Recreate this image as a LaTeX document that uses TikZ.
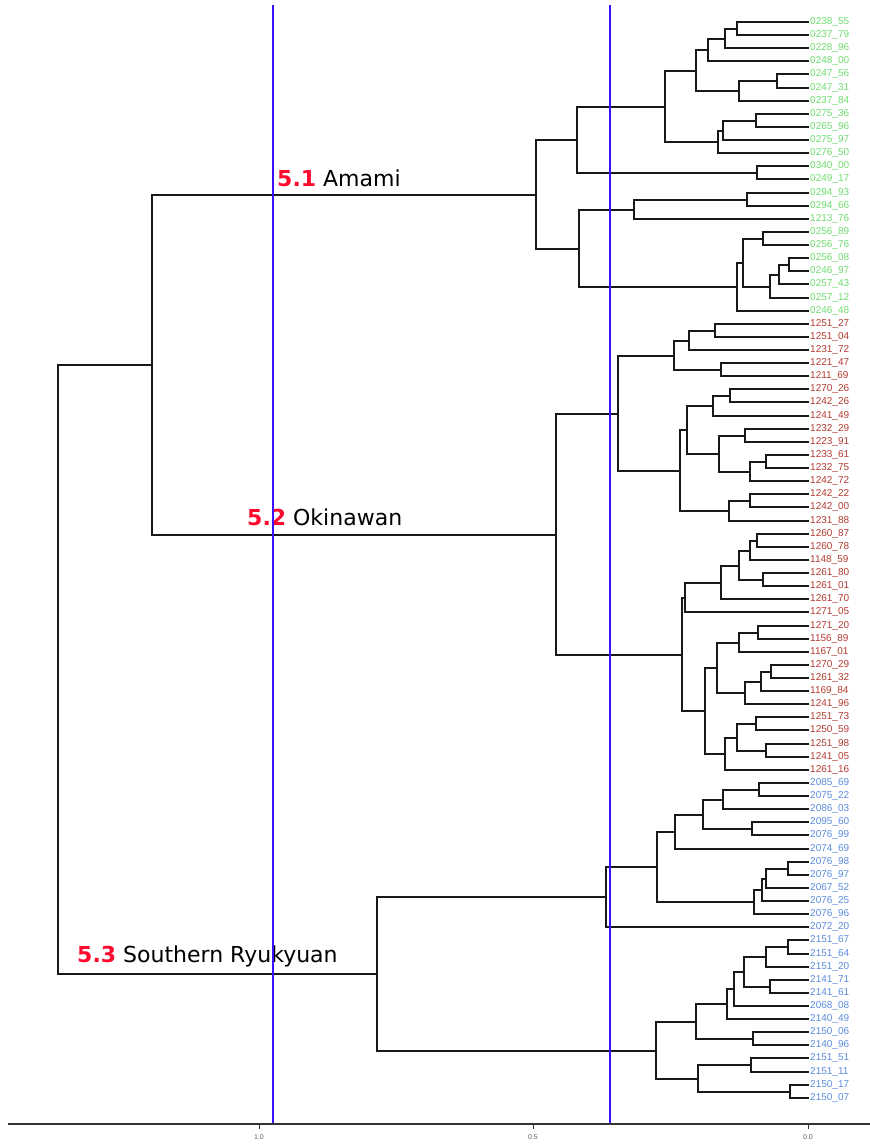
\documentclass[tikz,border=0pt]{standalone}
\usepackage{fontspec}
\setmainfont{Liberation Sans}
\newfontfamily\djv{DejaVu Sans}
\usetikzlibrary{calc}
\definecolor{amami}{HTML}{6EDC6E}
\definecolor{okin}{HTML}{B23B30}
\definecolor{south}{HTML}{5B8BDE}
\definecolor{hired}{HTML}{FF0A2E}
\definecolor{cutblue}{HTML}{3A10FF}
\definecolor{axisgray}{HTML}{333333}
\tikzset{
  tree/.style={draw=black!90, line width=1.8pt, line join=miter, line cap=rect},
  leaf/.style={anchor=west, inner sep=0pt, font=\fontsize{10}{12}\selectfont},
  clade/.style={anchor=base west, inner sep=0pt, font=\djv\fontsize{22}{26}\selectfont},
  cut/.style={draw=cutblue, line width=1.8pt},
  axisline/.style={draw=axisgray, line width=1.4pt},
  ticklab/.style={text=axisgray!80, font=\fontsize{7}{8}\selectfont, inner sep=0pt},
}
% merge two children at height #2 (px), snapped to whole pixels
\newcommand\mrg[4]{%
  \path let \p1=(#3), \p2=(#4) in coordinate (#1) at ({round(#2)*1pt}, {round(0.5*\y1+0.5*\y2)*1pt});
  \draw[tree] (#3) -| (#1) |- (#4);}

\begin{document}
\begin{tikzpicture}[x=1pt, y=-1pt]
  \useasboundingbox (0,0) rectangle (870,1144);
  \def\dy{13.12}
  % leaves
  \foreach \nm [count=\i from 0] in {0238\_55,0237\_79,0228\_96,0248\_00,0247\_56,0247\_31,0237\_84,0275\_36,0265\_96,0275\_97,0276\_50,0340\_00,0249\_17,0294\_93,0294\_66,1213\_76,0256\_89,0256\_76,0256\_08,0246\_97,0257\_43,0257\_12,0246\_48}{
    \coordinate (l\i) at (808,{round(22+\i*\dy)});
    \node[leaf, text=amami] (t\i) at (810,{22+\i*\dy}) {\nm};
  }
  \foreach \nm [count=\i from 23] in {1251\_27,1251\_04,1231\_72,1221\_47,1211\_69,1270\_26,1242\_26,1241\_49,1232\_29,1223\_91,1233\_61,1232\_75,1242\_72,1242\_22,1242\_00,1231\_88,1260\_87,1260\_78,1148\_59,1261\_80,1261\_01,1261\_70,1271\_05,1271\_20,1156\_89,1167\_01,1270\_29,1261\_32,1169\_84,1241\_96,1251\_73,1250\_59,1251\_98,1241\_05,1261\_16}{
    \coordinate (l\i) at (808,{round(22+\i*\dy)});
    \node[leaf, text=okin] (t\i) at (810,{22+\i*\dy}) {\nm};
  }
  \foreach \nm [count=\i from 58] in {2085\_69,2075\_22,2086\_03,2095\_60,2076\_99,2074\_69,2076\_98,2076\_97,2067\_52,2076\_25,2076\_96,2072\_20,2151\_67,2151\_64,2151\_20,2141\_71,2141\_61,2068\_08,2140\_49,2150\_06,2140\_96,2151\_51,2151\_11,2150\_17,2150\_07}{
    \coordinate (l\i) at (808,{round(22+\i*\dy)});
    \node[leaf, text=south] (t\i) at (810,{22+\i*\dy}) {\nm};
  }
  % Amami
  \mrg{a1}{737}{l0}{l1}
  \mrg{a2}{725}{a1}{l2}
  \mrg{a3}{707.7}{a2}{l3}
  \mrg{a4}{777}{l4}{l5}
  \mrg{a5}{739.3}{a4}{l6}
  \mrg{a6}{696}{a3}{a5}
  \mrg{a7}{755.7}{l7}{l8}
  \mrg{a8}{722.7}{a7}{l9}
  \mrg{a9}{717.7}{a8}{l10}
  \mrg{a10}{665}{a6}{a9}
  \mrg{a11}{756.7}{l11}{l12}
  \mrg{a12}{576.7}{a10}{a11}
  \mrg{a13}{746.7}{l13}{l14}
  \mrg{a14}{634.3}{a13}{l15}
  \mrg{a15}{763.3}{l16}{l17}
  \mrg{a16}{788.7}{l18}{l19}
  \mrg{a17}{779}{a16}{l20}
  \mrg{a18}{770}{a17}{l21}
  \mrg{a19}{743.3}{a15}{a18}
  \mrg{a20}{736.7}{a19}{l22}
  \mrg{a21}{579.3}{a14}{a20}
  \mrg{a22}{535.7}{a12}{a21}
  % Okinawan
  \mrg{o1}{715}{l23}{l24}
  \mrg{o2}{689}{o1}{l25}
  \mrg{o3}{721}{l26}{l27}
  \mrg{o4}{674.3}{o2}{o3}
  \mrg{o5}{729.7}{l28}{l29}
  \mrg{o6}{712.7}{o5}{l30}
  \mrg{o7}{745}{l31}{l32}
  \mrg{o8}{765.7}{l33}{l34}
  \mrg{o9}{749.7}{o8}{l35}
  \mrg{o10}{719.3}{o7}{o9}
  \mrg{o11}{687}{o6}{o10}
  \mrg{o12}{749.7}{l36}{l37}
  \mrg{o13}{729}{o12}{l38}
  \mrg{o14}{680.3}{o11}{o13}
  \mrg{o15}{618.3}{o4}{o14}
  \mrg{o16}{757}{l39}{l40}
  \mrg{o17}{750}{o16}{l41}
  \mrg{o18}{763.3}{l42}{l43}
  \mrg{o19}{738.7}{o17}{o18}
  \mrg{o20}{721}{o19}{l44}
  \mrg{o21}{685}{o20}{l45}
  \mrg{o22}{758.3}{l46}{l47}
  \mrg{o23}{739.3}{o22}{l48}
  \mrg{o24}{771}{l49}{l50}
  \mrg{o25}{761}{o24}{l51}
  \mrg{o26}{745.3}{o25}{l52}
  \mrg{o27}{716.7}{o23}{o26}
  \mrg{o28}{755.7}{l53}{l54}
  \mrg{o29}{765.7}{l55}{l56}
  \mrg{o30}{736.7}{o28}{o29}
  \mrg{o31}{725.3}{o30}{l57}
  \mrg{o32}{705}{o27}{o31}
  \mrg{o33}{681.7}{o21}{o32}
  \mrg{o34}{555.7}{o15}{o33}
  % Southern Ryukyuan
  \mrg{s1}{759.3}{l58}{l59}
  \mrg{s2}{723.3}{s1}{l60}
  \mrg{s3}{751.7}{l61}{l62}
  \mrg{s4}{702.7}{s2}{s3}
  \mrg{s5}{675.3}{s4}{l63}
  \mrg{s6}{788.3}{l64}{l65}
  \mrg{s7}{766}{s6}{l66}
  \mrg{s8}{762.3}{s7}{l67}
  \mrg{s9}{754}{s8}{l68}
  \mrg{s10}{656.7}{s5}{s9}
  \mrg{s11}{606}{s10}{l69}
  \mrg{s12}{787.7}{l70}{l71}
  \mrg{s13}{766}{s12}{l72}
  \mrg{s14}{770}{l73}{l74}
  \mrg{s15}{743.7}{s13}{s14}
  \mrg{s16}{733.7}{s15}{l75}
  \mrg{s17}{727.3}{s16}{l76}
  \mrg{s18}{752.7}{l77}{l78}
  \mrg{s19}{695.7}{s17}{s18}
  \mrg{s20}{751}{l79}{l80}
  \mrg{s21}{790.3}{l81}{l82}
  \mrg{s22}{698.3}{s20}{s21}
  \mrg{s23}{656}{s19}{s22}
  \mrg{s24}{377}{s11}{s23}
  % top
  \mrg{k1}{152}{a22}{o34}
  \mrg{root}{58}{k1}{s24}
  % clade labels
  \node[clade] (c1) at (277,186) {\textcolor{hired}{\bfseries 5.1} Amami};
  \node[clade] (c2) at (247,525) {\textcolor{hired}{\bfseries 5.2} Okinawan};
  \node[clade] (c3) at (77,962) {\textcolor{hired}{\bfseries 5.3} Southern Ryukyuan};
  % cut lines
  \coordinate (u1) at (273,5);  \coordinate (v1) at (273,1124);
  \coordinate (u2) at (610,5);  \coordinate (v2) at (610,1124);
  \draw[cut] (u1) -- (v1);
  \draw[cut] (u2) -- (v2);
  % axis
  \coordinate (ax0) at (8,1124);
  \coordinate (ax1) at (870,1124);
  \draw[axisline] (ax0) -- (ax1);
  \foreach \v/\px in {1.0/259, 0.5/533, 0.0/808}{
    \draw[axisline, line width=0.8pt] (\px,1124) -- (\px,1129);
    \node[ticklab] (tk\px) at (\px,1137) {\v};
  }
\end{tikzpicture}
\end{document}
